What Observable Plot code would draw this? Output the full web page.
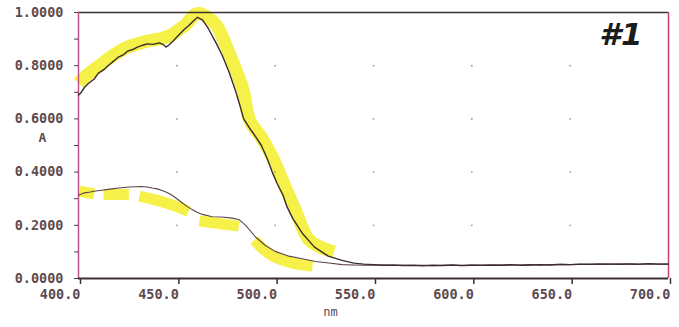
<!DOCTYPE html>
<html>
<head>
<meta charset="utf-8">
<script src="https://cdn.jsdelivr.net/npm/d3@7"></script>
<script src="https://cdn.jsdelivr.net/npm/@observablehq/plot@0.6"></script>
<style>
  html, body { margin: 0; padding: 0; background: #ffffff; }
  svg { overflow: visible; }
</style>
</head>
<body>
<div id="chart"></div>
<script>
// ---- axis ticks ----
const xTicks = [400, 450, 500, 550, 600, 650, 700];
const yTicks = [0, 0.1, 0.2, 0.3, 0.4, 0.5, 0.6, 0.7, 0.8, 0.9, 1.0];
const yLabelled = [0, 0.2, 0.4, 0.6, 0.8, 1.0];
const gridX = [450, 500, 550, 600, 650];
const gridY = [0.2, 0.4, 0.6, 0.8];

// ---- upper spectrum (nm, A) ----
const upperNm = [400, 401, 403, 405, 408, 410, 413, 415, 418, 420, 423, 425, 428, 430, 433, 435, 438, 441, 443, 444.5, 446, 448, 451, 454, 456, 458, 460.5, 463, 466, 470, 473, 476.5, 480, 482, 484, 487, 489, 493, 496, 498.5, 501, 504, 506, 509, 514, 520, 527, 534, 540, 545,
  550, 555, 560, 565, 570, 575, 580, 585, 590, 595, 600, 605, 610, 615, 620, 625, 630, 635, 640, 645, 650, 655, 660, 665, 670, 675, 680, 685, 690, 695, 700];
const upperA = [0.690, 0.696, 0.718, 0.733, 0.750, 0.771, 0.786, 0.800, 0.818, 0.831, 0.842, 0.855, 0.862, 0.870, 0.878, 0.882, 0.880, 0.886, 0.880, 0.870, 0.878, 0.892, 0.915, 0.938, 0.950, 0.965, 0.982, 0.972, 0.940, 0.885, 0.840, 0.777, 0.702, 0.652, 0.600, 0.565, 0.545, 0.500, 0.450, 0.400, 0.357, 0.313, 0.270, 0.225, 0.168, 0.118, 0.084, 0.068, 0.058, 0.054,
  0.052, 0.050, 0.051, 0.049, 0.050, 0.048, 0.050, 0.049, 0.051, 0.049, 0.050, 0.050, 0.051, 0.050, 0.052, 0.050, 0.051, 0.052, 0.051, 0.053, 0.052, 0.054, 0.053, 0.055, 0.054, 0.053, 0.055, 0.054, 0.056, 0.054, 0.054];

// ---- lower spectrum (nm, A) ----
const lowerNm = [400, 403, 406, 408.6, 412, 415, 418, 420.5, 423, 425.6, 429, 432, 435, 437.5, 440, 442.5, 445, 447.6, 450, 452.7, 455, 457.8, 460, 463, 468, 473, 478, 481.5, 485, 490, 495, 500, 507, 513.7, 520.5, 527.3, 534, 540, 545,
  550, 555, 560, 565, 570, 575, 580, 585, 590, 595, 600, 605, 610, 615, 620, 625, 630, 635, 640, 645, 650, 655, 660, 665, 670, 675, 680, 685, 690, 695, 700];
const lowerA = [0.313, 0.322, 0.325, 0.329, 0.332, 0.335, 0.338, 0.340, 0.342, 0.344, 0.345, 0.346, 0.344, 0.340, 0.337, 0.331, 0.323, 0.313, 0.300, 0.285, 0.272, 0.259, 0.250, 0.241, 0.232, 0.231, 0.227, 0.222, 0.200, 0.156, 0.124, 0.102, 0.084, 0.074, 0.064, 0.058, 0.052, 0.051, 0.050,
  0.050, 0.051, 0.049, 0.050, 0.049, 0.050, 0.048, 0.050, 0.050, 0.049, 0.051, 0.050, 0.050, 0.051, 0.050, 0.051, 0.052, 0.050, 0.052, 0.053, 0.052, 0.053, 0.054, 0.053, 0.054, 0.055, 0.054, 0.053, 0.055, 0.054, 0.054];

// ---- yellow marker highlights ----
const hiUpperNm = [400, 405, 410, 415, 420, 425, 431, 436, 441, 447, 451, 455, 459, 462, 465, 470, 477, 483.5, 487, 493, 499, 505, 510, 517, 523, 530];
const hiUpperA  = [0.735, 0.770, 0.796, 0.825, 0.850, 0.870, 0.884, 0.894, 0.900, 0.915, 0.935, 0.958, 0.992, 0.996, 0.985, 0.953, 0.840, 0.714, 0.595, 0.530, 0.450, 0.345, 0.262, 0.147, 0.118, 0.100];

const hiLowerNm  = [400.5, 408, 412.7, 425.6, 431, 442, 450, 456, 461.5, 481.5, 489.5, 494, 500, 510, 519];
const hiLowerA   = [0.328, 0.318, 0.316, 0.316, 0.310, 0.290, 0.270, 0.252, 0.216, 0.197, 0.145, 0.110, 0.080, 0.056, 0.047];
const hiLowerSeg = [1, 1, 2, 2, 3, 3, 3, 3, 4, 4, 5, 5, 5, 5, 5];

// ---- build tables ----
const upper = upperNm.map((x, i) => ({x, y: upperA[i]}));
const lower = lowerNm.map((x, i) => ({x, y: lowerA[i]}));
const hiUpper = hiUpperNm.map((x, i) => ({x, y: hiUpperA[i]}));
const hiLower = hiLowerNm.map((x, i) => ({x, y: hiLowerA[i], s: hiLowerSeg[i]}));
const grid = gridX.flatMap(x => gridY.map(y => ({x, y})));

const textColor = "#5e4b50";
const monoFont = "DejaVu Sans Mono";

const chart = Plot.plot({
  width: 679,
  height: 327,
  marginLeft: 78,
  marginRight: 11,
  marginTop: 12,
  marginBottom: 49,
  x: {domain: [400, 700]},
  y: {domain: [0, 1]},
  style: {fontFamily: monoFont, fontSize: "13.5px", color: textColor, background: "#ffffff"},
  marks: [
    // yellow highlighter
    Plot.line(hiUpper, {x: "x", y: "y", stroke: "#f4f03a", strokeWidth: 13, strokeOpacity: 0.92, strokeLinecap: "butt", strokeLinejoin: "round", curve: "catmull-rom"}),
    Plot.line(hiLower, {x: "x", y: "y", z: "s", stroke: "#f4f03a", strokeWidth: 11, strokeOpacity: 0.92, strokeLinecap: "butt", strokeLinejoin: "round", curve: "catmull-rom"}),
    // grid dots
    Plot.dot(grid, {x: "x", y: "y", r: 0.9, fill: "#9a9a9a", stroke: null}),
    // frame
    Plot.ruleY([1], {stroke: "#3a3333", strokeWidth: 1.5}),
    Plot.ruleX([700], {stroke: "#c8406a", strokeWidth: 1.5}),
    Plot.ruleX([400], {stroke: "#c4508c", strokeWidth: 1.5}),
    Plot.ruleY([0], {stroke: "#3d3030", strokeWidth: 1.8}),
    // axes
    Plot.axisY({ticks: yTicks, tickSize: 4, tickPadding: 11, stroke: "#4a3d40",
      tickFormat: d => yLabelled.some(v => Math.abs(v - d) < 1e-9) ? d.toFixed(4) : "",
      fontWeight: "bold", fill: textColor, label: null}),
    Plot.axisX({ticks: xTicks, tickSize: 6, tickPadding: 5, stroke: "#3d3030", strokeWidth: 1.5,
      tickFormat: d => d.toFixed(1), textAnchor: "end", dx: 2,
      fontWeight: "bold", fill: textColor, label: null}),
    // spectra
    Plot.line(lower, {x: "x", y: "y", stroke: "#5e4448", strokeWidth: 1.1}),
    Plot.line(upper, {x: "x", y: "y", stroke: "#3b2c2e", strokeWidth: 1.4}),
    // axis titles
    Plot.text(["A"], {frameAnchor: "left", dx: -40, dy: -8, fill: textColor, fontWeight: "bold", fontSize: 13, text: d => d}),
    Plot.text(["nm"], {frameAnchor: "bottom", dx: -43, dy: 37, fill: textColor, fontSize: 12, text: d => d}),
    // handwritten label
    Plot.text(["#1"], {frameAnchor: "top-right", textAnchor: "end", lineAnchor: "top", dx: -26, dy: 10,
      fontFamily: "DejaVu Sans", fontWeight: "bold", fontStyle: "italic", fontSize: 31, fill: "#1c1c1c", text: d => d})
  ]
});

document.getElementById("chart").appendChild(chart);
</script>
</body>
</html>
